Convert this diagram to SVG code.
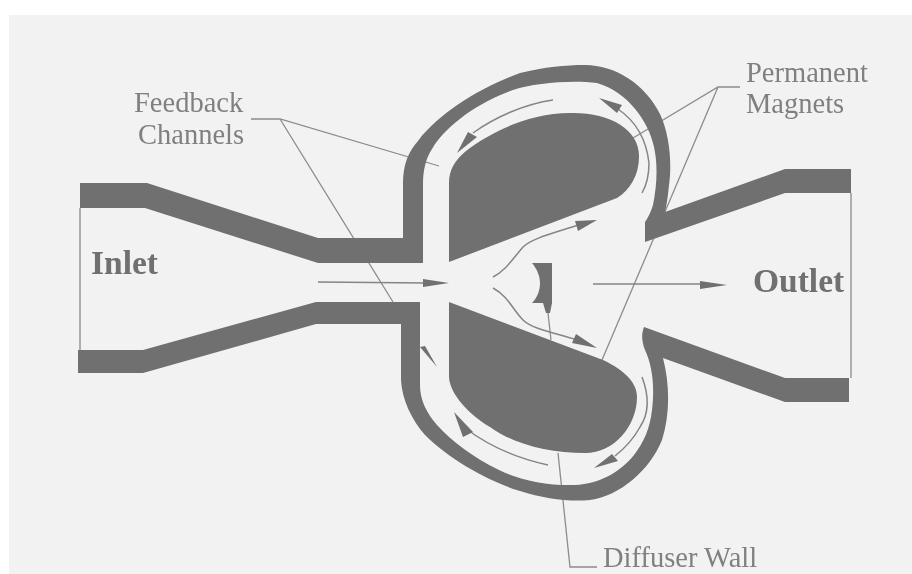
<svg xmlns="http://www.w3.org/2000/svg" width="912" height="574" viewBox="0 0 912 574">
<defs>
<style>
.wall{fill:#6f6f6f;stroke:none}
.thin{fill:none;stroke:#8c8c8c;stroke-width:1.3}
.flow{fill:none;stroke:#858585;stroke-width:1.5}
.head{fill:#707070;stroke:none}
text{font-family:"Liberation Serif","Times New Roman",serif;fill:#808080}
.lab{font-size:28.5px}
.big{font-size:33.5px;font-weight:bold;fill:#6f6f6f}
</style>
<filter id="soft" x="-5%" y="-5%" width="110%" height="110%"><feGaussianBlur stdDeviation="0.6"/></filter>
</defs>
<rect width="912" height="574" fill="#ffffff"/>
<rect x="9" y="15" width="903" height="559" fill="#f2f2f2"/>
<g filter="url(#soft)">
<g id="connectors">
<path class="thin" d="M80 208V351M851 193V378"/>
<path class="thin" d="M251 119H280L439 166M280 119L393 302"/>
<path class="thin" d="M740 87H718L633 138M718 87L602 360"/>
<path class="thin" d="M548 313L551 340M558 453L570 567H597"/>
<path class="flow" d="M318 282L426 283M593 284H702"/>
<path class="flow" d="M493 277C505 271 511 261 523 247C532 238 555 233 578 225"/>
<path class="flow" d="M493 288C508 296 513 310 523 320C532 329 555 333 577 340"/>
<path class="flow" d="M618 109C634 120 646 136 649 163C649 176 646 186 642 193"/>
<path class="flow" d="M553 100C525 104 495 117 473 133"/>
<path class="flow" d="M548 465C520 459 490 447 465 428"/>
<path class="flow" d="M642 377C650 398 648 415 640 427C633 440 625 448 615 456"/>
</g>
<g id="inlet-wall-top"><path class="wall" d="M80 183H147L318 238H423V263H318L145 208H80Z"/></g>
<g id="inlet-wall-bottom"><path class="wall" d="M78 350H143L316 302H420V324H316L143 373H78Z"/></g>
<g id="upper-shell"><path class="wall" d="M403 240V183C403 165 408 152 418 141C440 112 480 88 520 73C545 67 565 65 585 65C615 65 645 84 660 114C670 135 672 165 669 185C668 195 667 203 665 212L785 169H851V193H785L645 242V222C650 215 652 208 653 205C657 185 658 165 654 147C649 122 628 92 597 83C570 80 535 83 513 90C480 102 447 124 432 149C426 158 423 170 423 183V240Z"/></g>
<g id="lower-shell"><path class="wall" d="M401 322V380C402 400 412 420 425 435C450 460 490 482 520 491C545 499 570 502 590 500C620 496 650 470 662 440C670 415 670 385 663 358L785 402H849V378H785L644 327C641 335 642 342 645 350C652 365 655 385 652 410C650 428 644 442 634 455C620 472 600 484 575 485C550 486 520 481 497 469C475 458 452 442 437 425C426 412 420 400 420 385V322Z"/></g>
<g id="upper-magnet"><path class="wall" d="M449 262V183C449 170 455 160 466 151C490 132 530 113 570 113C610 112 640 130 639 157C639 175 630 190 617 198Z"/></g>
<g id="lower-magnet"><path class="wall" d="M449 302V377C450 395 470 415 490 427C515 445 550 453 585 453C615 453 637 425 637 397C637 380 620 368 603 360Z"/></g>
<g id="diffuser-wall"><path class="wall" d="M532 263H552V303L550 313H546L543 303H532C537 298 540 291 540 283C540 276 537 269 532 263Z"/></g>
<g id="arrowheads">
<path class="head" d="M423 279L449 283L423 287Z"/>
<path class="head" d="M700 281L727 285L700 289Z"/>
<path class="head" d="M575 221L597 220L578 231Z"/>
<path class="head" d="M576 334L597 348L572 343Z"/>
<path class="head" d="M599 98L622 105L617 113Z"/>
<path class="head" d="M457 153L468 132L477 137Z"/>
<path class="head" d="M454 412L473 432L463 437Z"/>
<path class="head" d="M594 468L612 454L618 461Z"/>
<path class="head" d="M420 347L425 346L437 367Z"/>
</g>
</g>
<g id="labels" filter="url(#soft)">
<text class="lab" x="134" y="112">Feedback</text>
<text class="lab" x="138" y="144">Channels</text>
<text class="lab" x="746" y="82">Permanent</text>
<text class="lab" x="746" y="113">Magnets</text>
<text class="big" x="91" y="274">Inlet</text>
<text class="big" x="753" y="292">Outlet</text>
<text class="lab" x="603" y="567">Diffuser Wall</text>
</g>
</svg>
